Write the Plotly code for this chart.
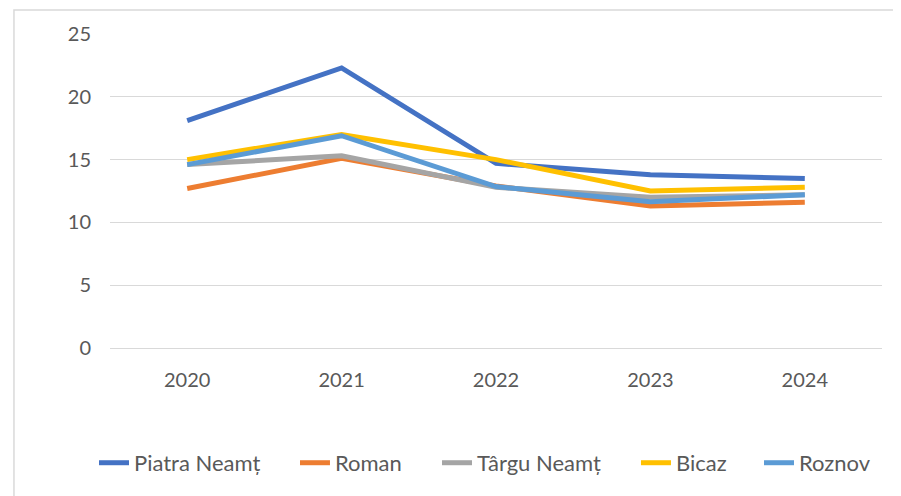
import plotly.graph_objects as go

years = ["2020", "2021", "2022", "2023", "2024"]
series_names = ["Piatra Neamț", "Roman", "Târgu Neamț", "Bicaz", "Roznov"]
piatra_neamt = [18.1, 22.3, 14.7, 13.8, 13.5]
roman = [12.7, 15.1, 12.9, 11.3, 11.6]
targu_neamt = [14.6, 15.3, 12.8, 12.0, 12.2]
bicaz = [15.0, 17.0, 15.0, 12.5, 12.8]
roznov = [14.6, 16.9, 12.85, 11.65, 12.2]
y_ticks = [0, 5, 10, 15, 20, 25]

colors = ["#4472C4", "#ED7D31", "#A5A5A5", "#FFC000", "#5B9BD5"]
values = [piatra_neamt, roman, targu_neamt, bicaz, roznov]
# horizontal position (paper units) of each legend entry
legend_x = [-0.0207, 0.2396, 0.4236, 0.6813, 0.8407]

tick_font = dict(family="Lato, Calibri, sans-serif", size=20, color="#595959")
leg_font = dict(family="Lato, Calibri, sans-serif", size=22, color="#595959")

fig = go.Figure()
legend_layout = {}
for i, (name, vals, col) in enumerate(zip(series_names, values, colors)):
    key = "legend" if i == 0 else f"legend{i + 1}"
    fig.add_trace(go.Scatter(x=years, y=vals, name=name, mode="lines",
                             line=dict(color=col, width=5), legend=key))
    legend_layout[key] = dict(orientation="h", x=legend_x[i], xanchor="left",
                              y=-0.366, yanchor="middle", font=leg_font,
                              itemwidth=30, bgcolor="rgba(0,0,0,0)")

# page body has an 8px margin, so the figure is offset by 8px
fig.update_layout(
    width=893, height=488,
    margin=dict(l=102, r=19, t=26, b=148),
    paper_bgcolor="white", plot_bgcolor="white",
    font=tick_font,
    showlegend=True,
    xaxis=dict(type="category", range=[-0.5, 4.5], showgrid=False, showline=False,
               ticks="", ticklabelstandoff=18, tickfont=tick_font),
    yaxis=dict(range=[0, 25], tickvals=y_ticks, showgrid=True, gridcolor="#D9D9D9",
               gridwidth=1, zeroline=True, zerolinecolor="#D9D9D9", zerolinewidth=1,
               showline=False, ticks="", ticklabelstandoff=18, tickfont=tick_font),
    shapes=[dict(type="rect", xref="paper", yref="paper", x0=-0.1244, x1=1.2,
                 y0=-0.7, y1=1.0764, line=dict(color="#D9D9D9", width=1.5),
                 fillcolor="rgba(0,0,0,0)", layer="below")],
    **legend_layout,
)

fig.write_html("out.html")
